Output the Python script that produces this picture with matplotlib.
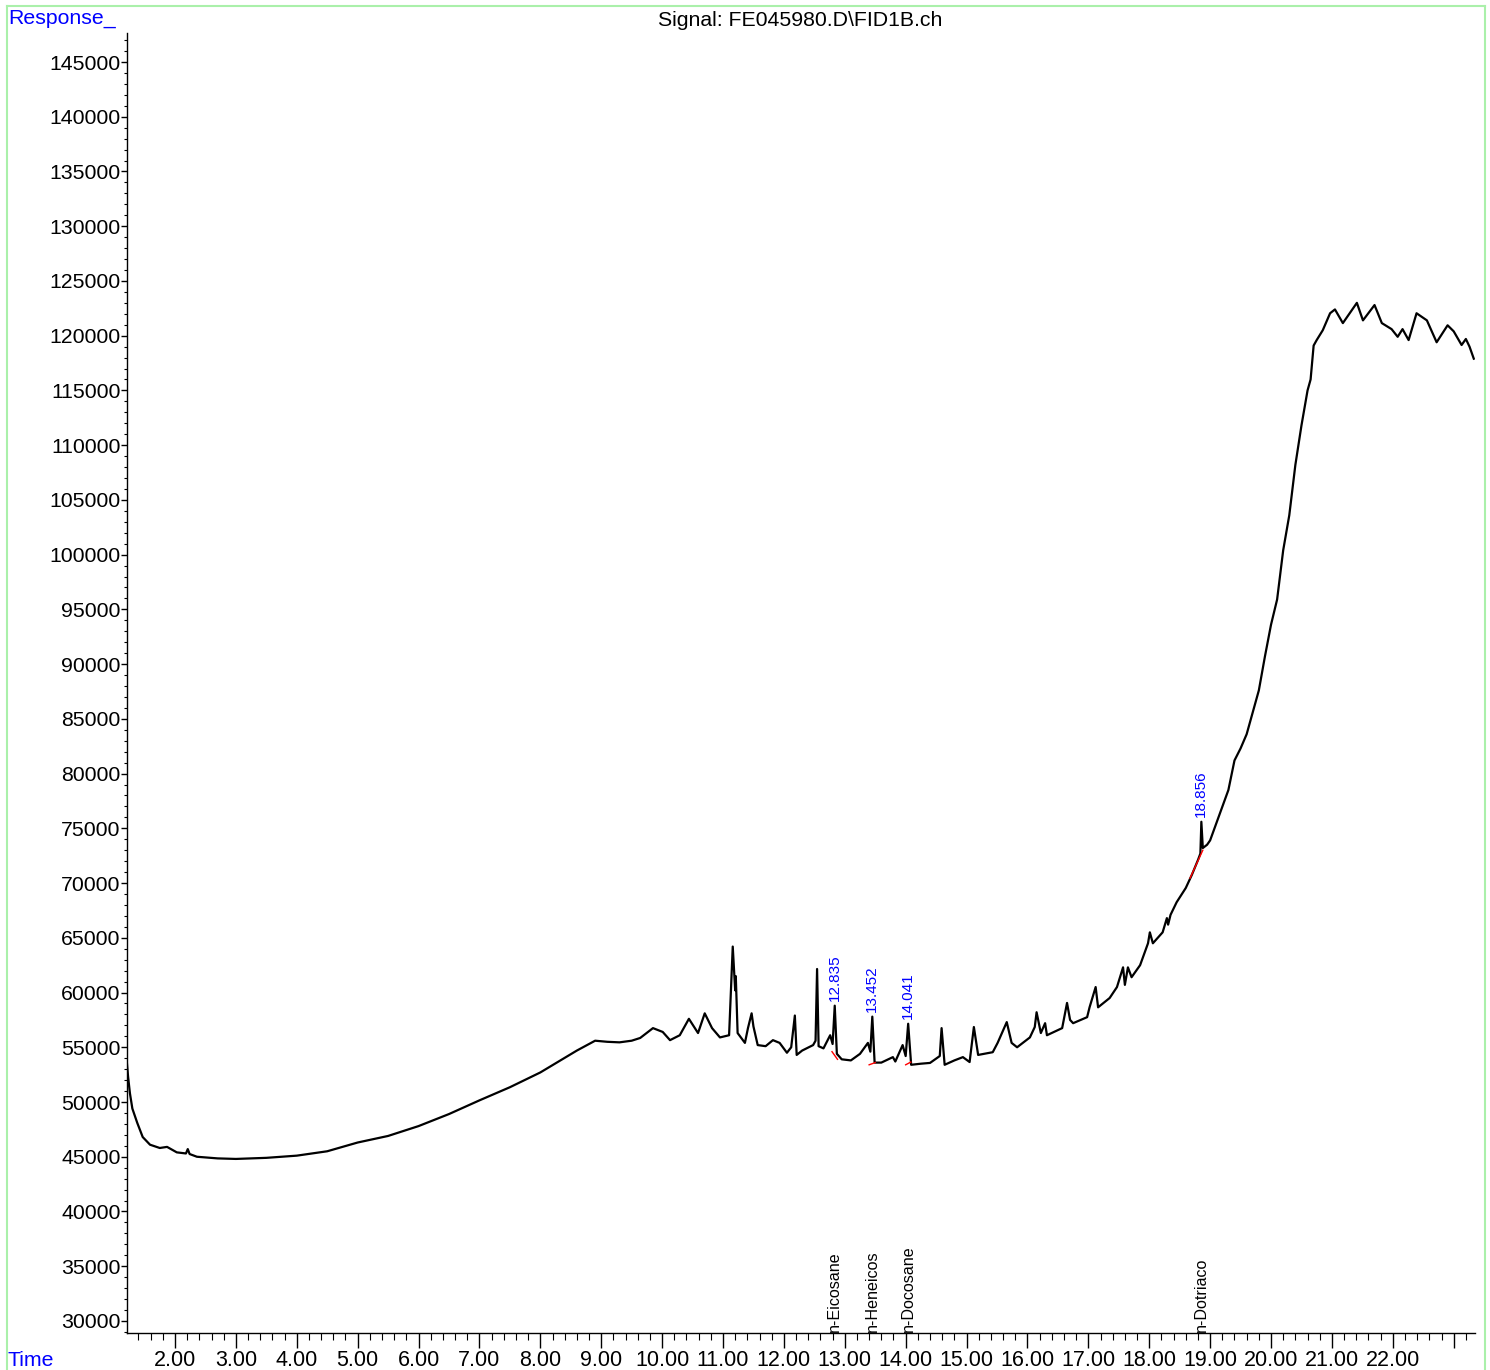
import matplotlib
matplotlib.use("Agg")
import matplotlib.pyplot as plt
from matplotlib.lines import Line2D
from matplotlib.ticker import MultipleLocator, FixedLocator, FixedFormatter

plt.rcParams['font.family'] = ['Liberation Sans', 'DejaVu Sans']

# ---- data (time in min, response) ----
times = [1.21, 1.23, 1.26, 1.30, 1.38, 1.47, 1.59, 1.75, 1.87, 2.03, 2.18, 2.21, 2.24,
         2.36, 2.70, 3.00, 3.50, 4.00, 4.50, 5.00, 5.50, 6.00, 6.50, 7.00, 7.50, 8.00,
         8.30, 8.60, 8.90, 9.10, 9.30, 9.50, 9.64, 9.85, 10.01, 10.13, 10.29, 10.44,
         10.59, 10.70, 10.82, 10.95, 11.10, 11.16, 11.20, 11.21, 11.24, 11.36, 11.41,
         11.47, 11.50, 11.57, 11.70, 11.82, 11.93, 12.05, 12.12, 12.18, 12.21, 12.30,
         12.48, 12.52, 12.545, 12.57, 12.65, 12.76, 12.80, 12.835, 12.87, 12.95, 13.10,
         13.25, 13.38, 13.42, 13.452, 13.49, 13.60, 13.79, 13.83, 13.95, 14.00, 14.041,
         14.09, 14.25, 14.40, 14.56, 14.59, 14.64, 14.80, 14.94, 15.05, 15.12, 15.19,
         15.43, 15.51, 15.66, 15.74, 15.83, 16.04, 16.12, 16.15, 16.22, 16.29, 16.32,
         16.57, 16.65, 16.70, 16.75, 16.98, 17.02, 17.12, 17.16, 17.35, 17.47, 17.57,
         17.60, 17.65, 17.71, 17.85, 17.98, 18.01, 18.06, 18.22, 18.29, 18.31, 18.35,
         18.45, 18.60, 18.70, 18.80, 18.84, 18.856, 18.88, 18.95, 19.00, 19.15, 19.30,
         19.40, 19.50, 19.60, 19.70, 19.80, 19.90, 20.00, 20.10, 20.20, 20.30, 20.40,
         20.50, 20.60, 20.65, 20.70, 20.75, 20.85, 20.97, 21.05, 21.18, 21.41, 21.51,
         21.70, 21.82, 21.98, 22.08, 22.16, 22.26, 22.39, 22.56, 22.72, 22.90, 23.00,
         23.13, 23.20, 23.26, 23.33]
response = [53600, 52300, 50800, 49400, 48100, 46800, 46100, 45800, 45900, 45400, 45300, 45700, 45250,
            45000, 44850, 44800, 44900, 45100, 45500, 46300, 46900, 47800, 48900, 50150, 51350, 52700,
            53700, 54700, 55600, 55500, 55450, 55600, 55850, 56750, 56400, 55650, 56100, 57600,
            56300, 58100, 56750, 55900, 56100, 64200, 60200, 61500, 56300, 55400, 56750,
            58100, 56900, 55200, 55100, 55650, 55400, 54500, 55000, 57900, 54300, 54700,
            55200, 55600, 62150, 55100, 54900, 56100, 55300, 58800, 54400, 53900, 53800,
            54400, 55400, 54600, 57800, 53600, 53600, 54100, 53700, 55200, 54200, 57150,
            53400, 53500, 53570, 54200, 56750, 53400, 53800, 54100, 53650, 56850, 54300,
            54550, 55400, 57300, 55400, 55000, 55900, 56850, 58200, 56300, 57200, 56100,
            56750, 59050, 57500, 57200, 57750, 58650, 60500, 58650, 59500, 60500, 62300,
            60700, 62300, 61400, 62500, 64500, 65500, 64500, 65500, 66800, 66200, 67100,
            68250, 69550, 70750, 72100, 72700, 75600, 73200, 73500, 73900, 76200, 78500,
            81200, 82300, 83600, 85600, 87600, 90700, 93600, 95900, 100400, 103600, 108200,
            111800, 115000, 116000, 119100, 119600, 120500, 122050, 122400, 121150, 123000, 121400,
            122800, 121150, 120600, 119900, 120600, 119600, 122050, 121400, 119400, 120950, 120400,
            119150, 119700, 119000, 117900]

# labelled peaks
peak_rt = [12.835, 13.452, 14.041, 18.856]
peak_top = [58800, 57800, 57150, 75600]
peak_names = ["n-Eicosane", "n-Heneicos", "n-Docosane", "n-Dotriaco"]
# integration baselines (start t, start v, end t, end v)
base_t0 = [12.79, 13.40, 14.00, 18.67]
base_v0 = [54600, 53400, 53400, 70450]
base_t1 = [12.88, 13.50, 14.085, 18.88]
base_v1 = [53900, 53600, 53650, 73000]

y_major = list(range(30000, 145001, 5000))
x_major = list(range(2, 24))
x_labels = ["%d.00" % v for v in range(2, 23)] + [""]

# ---- figure ----
W, H = 1490, 1370
fig = plt.figure(figsize=(W / 100, H / 100), dpi=100)
ax = fig.add_axes([127 / W, 1 - 1333 / H, (1475 - 127) / W, (1333 - 33) / H])

ax.plot(times, response, color="black", lw=1.6, solid_joinstyle="round")
for a, b, c, d in zip(base_t0, base_v0, base_t1, base_v1):
    ax.plot([a, c], [b, d], color="red", lw=1.0)

ax.set_xlim(1.212, 23.35)
ax.set_ylim(28900, 147650)

for s in ["top", "right"]:
    ax.spines[s].set_visible(False)
ax.spines["left"].set_linewidth(1.0)
ax.spines["bottom"].set_linewidth(1.0)

ax.yaxis.set_major_locator(FixedLocator(y_major))
ax.yaxis.set_minor_locator(MultipleLocator(1000))
ax.xaxis.set_major_locator(FixedLocator(x_major))
ax.xaxis.set_major_formatter(FixedFormatter(x_labels))
ax.xaxis.set_minor_locator(MultipleLocator(0.2))
ax.tick_params(axis="y", which="major", length=4, width=1, pad=0.5, labelsize=15.3)
ax.tick_params(axis="y", which="minor", length=2, width=0.8)
ax.tick_params(axis="x", which="major", length=11, width=1, pad=1.5, labelsize=15.5)
ax.tick_params(axis="x", which="minor", length=5, width=0.8)

for rt, top, name in zip(peak_rt, peak_top, peak_names):
    ax.text(rt, top + 400, "%.3f" % rt, rotation=90, ha="center", va="bottom",
            color="#0000ff", fontsize=11)
    ax.text(rt, 28950, name, rotation=90, ha="center", va="bottom",
            color="black", fontsize=11.6)

fig.text(800 / W, 1 - 21 / H, "Signal: FE045980.D\\FID1B.ch", ha="center", va="center",
         fontsize=15.3)
fig.text(8 / W, 1 - 19 / H, "Response_", ha="left", va="center", color="#0000ff", fontsize=15.3)
fig.text(8 / W, 1 - 1361 / H, "Time", ha="left", va="center", color="#0000ff", fontsize=15.3)

green = "#aaf0aa"
fig.add_artist(Line2D([7 / W, 1485 / W], [1 - 6 / H, 1 - 6 / H], color=green, lw=1.5))
fig.add_artist(Line2D([7 / W, 7 / W], [1 - 6 / H, 0], color=green, lw=1.5))
fig.add_artist(Line2D([1485 / W, 1485 / W], [1 - 6 / H, 0], color=green, lw=1.5))

fig.savefig("out.png", dpi=100)
